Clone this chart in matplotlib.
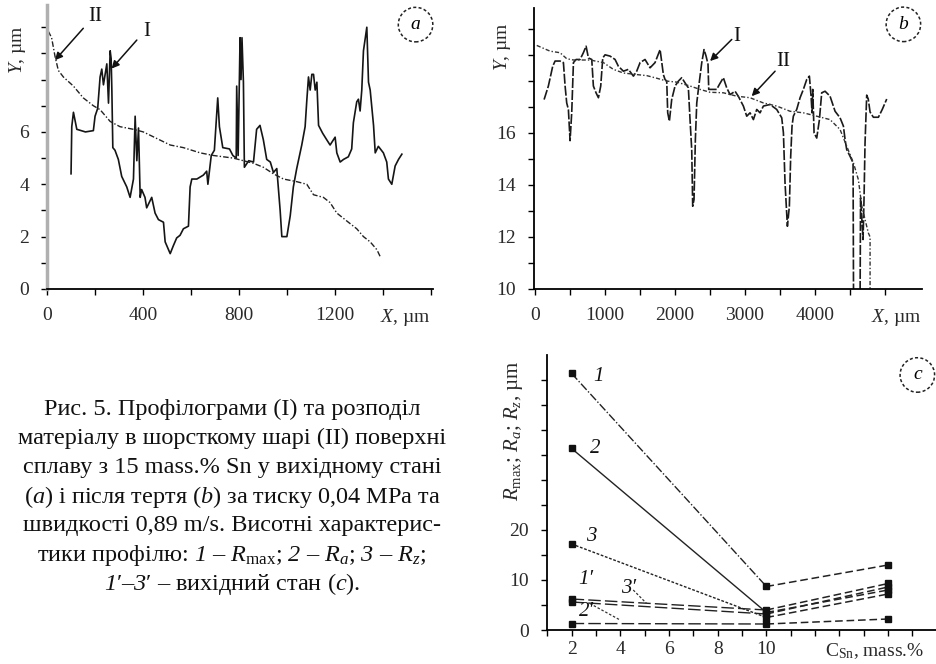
import matplotlib
matplotlib.use("Agg")
import matplotlib.pyplot as plt

plt.rcParams["font.family"] = ["Liberation Serif", "DejaVu Serif"]
plt.rcParams["mathtext.fontset"] = "custom"
plt.rcParams["mathtext.rm"] = "Liberation Serif"
plt.rcParams["mathtext.it"] = "Liberation Serif:italic"
plt.rcParams["mathtext.bf"] = "Liberation Serif:bold"
# mathtext draws digits upright even in \mathit, so \mathsf is used for italic digits
plt.rcParams["mathtext.sf"] = "Liberation Serif:italic"

# --- panel (a): initial state, 1600 um trace ---
a_prof_x = [100, 103, 110, 124, 160, 193, 200, 211, 221, 228, 235, 249, 256, 263, 267, 270, 274, 283, 297, 311,
            332, 346, 360, 367, 374, 381, 388, 394, 408, 415, 436, 450, 464, 485, 492, 513, 526, 540, 554, 568,
            589, 596, 603, 624, 651, 665, 670, 684, 697, 704, 711, 718, 732, 760, 774, 788, 790, 796, 804, 808,
            812, 818, 822, 840, 860, 873, 887, 901, 915, 930, 943, 957, 964, 971, 978, 999, 1013, 1026, 1040,
            1061, 1075, 1082, 1089, 1096, 1103, 1110, 1117, 1124, 1131, 1148, 1165, 1179, 1200, 1207, 1221,
            1235, 1255, 1269, 1276, 1290, 1297, 1304, 1311, 1318, 1332, 1339, 1346, 1360, 1367, 1380, 1401,
            1415, 1422, 1436, 1450, 1464, 1478]
a_prof_y = [4.4, 6.2, 6.75, 6.1, 6.0, 6.05, 6.6, 6.9, 8.1, 8.4, 7.8, 8.6, 7.1, 9.1, 8.8, 7.6, 5.4, 5.3, 4.95, 4.3,
            3.9, 3.5, 4.2, 6.6, 4.9, 6.15, 3.5, 3.8, 3.5, 3.1, 3.5, 2.9, 2.65, 2.55, 1.8, 1.35, 1.65, 1.95, 2.05,
            2.3, 2.4, 3.9, 4.2, 4.2, 4.35, 4.5, 4.0, 5.1, 5.3, 6.3, 7.3, 6.2, 5.4, 5.35, 5.1, 5.0, 7.75, 5.1,
            9.6, 8.0, 9.6, 7.9, 4.65, 4.9, 4.85, 6.1, 6.25, 5.7, 4.95, 4.85, 4.45, 4.6, 3.8, 3.0, 2.0, 2.0, 2.8,
            3.9, 4.6, 5.5, 6.2, 7.2, 8.1, 7.6, 8.2, 8.2, 7.6, 7.9, 6.25, 5.95, 5.7, 5.5, 5.8, 5.2, 4.85, 4.95,
            5.05, 5.35, 6.35, 7.15, 7.25, 6.8, 7.6, 9.1, 10.0, 7.9, 7.6, 6.25, 5.2, 5.45, 5.2, 4.85, 4.2, 4.0,
            4.7, 4.95, 5.15]
a_dist_x = [5, 19, 33, 47, 68, 110, 151, 193, 221, 263, 304, 360, 401, 457, 513, 568, 638, 693, 776, 860, 901,
            943, 985, 1040, 1082, 1110, 1151, 1179, 1207, 1262, 1290, 1318, 1346, 1374, 1387]
a_dist_y = [9.85, 9.6, 8.9, 8.35, 8.1, 7.75, 7.3, 7.0, 6.85, 6.4, 6.2, 6.1, 6.0, 5.75, 5.5, 5.4, 5.2, 5.1, 5.0,
            4.8, 4.65, 4.4, 4.2, 4.1, 4.0, 3.6, 3.5, 3.3, 2.9, 2.5, 2.3, 2.0, 1.8, 1.5, 1.25]

# --- panel (b): after friction ---
b_prof_x = [129, 190, 252, 286, 357, 405, 429, 452, 476, 500, 524, 548, 586, 643, 690, 729, 762, 810, 833, 871,
            905, 938, 967, 1000, 1071, 1143, 1190, 1262, 1333, 1405, 1452, 1500, 1571, 1643, 1714, 1786, 1833,
            1857, 1881, 1895, 1919, 1952, 2000, 2048, 2095, 2143, 2190, 2214, 2238, 2252, 2271, 2290, 2310,
            2333, 2381, 2414, 2443, 2471, 2481, 2500, 2595, 2633, 2690, 2738, 2786, 2857, 2905, 2976, 3024,
            3071, 3119, 3167, 3214, 3262, 3357, 3452, 3524, 3548, 3571, 3605, 3633, 3652, 3671, 3690, 3738,
            3786, 3833, 3881, 3919, 3943, 3957, 3967, 3986, 4024, 4062, 4095, 4143, 4214, 4286, 4357, 4405,
            4429, 4452, 4500, 4543, 4550, 4643, 4650, 4686, 4700, 4714, 4738, 4760, 4786, 4833, 4905, 4960,
            5024]
b_prof_y = [17.28, 17.8, 18.56, 18.76, 18.76, 18.7, 17.8, 17.15, 16.9, 15.7, 16.8, 18.7, 18.82, 18.82, 19.08,
            19.33, 18.88, 18.82, 17.8, 17.54, 17.35, 17.8, 18.88, 19.0, 18.95, 18.82, 18.56, 18.37, 18.44,
            18.18, 18.37, 18.7, 18.82, 18.5, 18.7, 19.2, 18.24, 18.05, 17.99, 16.77, 16.45, 17.28, 17.8, 17.99,
            18.12, 17.92, 17.73, 16.5, 15.36, 13.18, 13.44, 15.74, 17.15, 17.67, 18.69, 19.2, 18.95, 18.63,
            17.67, 17.67, 17.67, 17.86, 18.12, 17.73, 17.47, 17.6, 17.4, 17.03, 16.64, 16.77, 16.51, 16.9,
            16.77, 17.03, 17.09, 16.9, 16.58, 16.0, 14.08, 12.41, 13.18, 15.1, 16.26, 16.64, 16.9, 17.35,
            17.67, 18.05, 18.18, 17.41, 16.77, 17.67, 16.0, 15.8, 16.5, 17.54, 17.6, 17.41, 16.83, 16.58,
            16.26, 15.74, 15.36, 15.1, 14.85, 9.5, 9.5, 13.5, 11.9, 13.5, 15.6, 17.45, 17.3, 16.8, 16.6, 16.6,
            16.9, 17.3]
b_dist_x = [24, 214, 357, 452, 548, 786, 976, 1119, 1262, 1452, 1595, 1738, 1881, 2024, 2214, 2357, 2500, 2690,
            2881, 3071, 3262, 3452, 3643, 3833, 4024, 4214, 4357, 4452, 4548, 4619, 4667, 4714, 4762, 4786, 4786]
b_dist_y = [19.36, 19.14, 19.08, 18.85, 18.8, 18.8, 18.7, 18.44, 18.3, 18.24, 18.2, 18.1, 17.99, 17.95, 17.8,
            17.67, 17.56, 17.54, 17.41, 17.35, 17.15, 17.03, 16.83, 16.77, 16.64, 16.51, 16.13, 15.49, 14.85,
            14.2, 13.2, 12.67, 12.15, 12.0, 9.5]

# --- panel (c): roughness vs Sn content ---
c_sn = [2, 10, 15]
r_max = [51.3, 8.7, 13.0]
r_a = [36.3, 3.5, 8.0]
r_z = [17.2, 2.5, 7.2]
r_max0 = [6.2, 4.0, 9.3]
r_a0 = [1.3, 1.2, 2.2]
r_z0 = [5.6, 3.2, 8.6]

caption = [
    "Рис. 5. Профілограми (I) та розподіл",
    "матеріалу в шорсткому шарі (II) поверхні",
    "сплаву з 15 mass.% Sn у вихідному стані",
    "($a$) і після тертя ($b$) за тиску 0,04 MPa та",
    "швидкості 0,89 m/s. Висотні характерис-",
    r"тики профілю: $\mathsf{1}$ – $R_{\mathrm{max}}$; $\mathsf{2}$ – $R_a$; $\mathsf{3}$ – $R_z$;",
    r"$\mathsf{1}$′–$\mathsf{3}$′ – вихідний стан ($c$).",
]

FS = 14
TXT = "#2a2a2a"


def style_axes(ax):
    for side in ("top", "right"):
        ax.spines[side].set_visible(False)
    for side in ("left", "bottom"):
        ax.spines[side].set_linewidth(1.3)
    ax.tick_params(direction="out", length=4, width=1, labelsize=FS, labelcolor=TXT, pad=9)


def circle_label(ax, x, y, letter):
    ax.text(x, y, letter, fontsize=FS, style="italic", ha="center", va="center", clip_on=False,
            bbox=dict(boxstyle="circle,pad=0.45", fc="none", ec="#222", lw=1.1, ls=(0, (2, 1.5))))


def arrow(ax, tail, head):
    ax.annotate("", xy=head, xytext=tail,
                arrowprops=dict(arrowstyle="-|>", lw=1.1, color="#111", mutation_scale=11,
                                shrinkA=0, shrinkB=0))


def plot_a(fig):
    ax = fig.add_axes([0.0502, 0.5648, 0.412, 0.4277])
    style_axes(ax)
    ax.spines["left"].set_color("#b0b0b0")
    ax.spines["left"].set_linewidth(2.5)
    ax.plot(a_prof_x, a_prof_y, color="#151515", lw=1.2)
    ax.plot(a_dist_x, a_dist_y, color="#222", lw=1.0, ls=(0, (4, 1.5, 1, 1.5)))
    ax.set_xlim(0, 1608)
    ax.set_ylim(0, 10.85)
    ax.set_xticks(range(0, 1601, 200))
    ax.set_xticklabels(["0", "", "400", "", "800", "", "1200", "", ""])
    ax.set_yticks(range(0, 11))
    ax.set_yticklabels(["0", "", "2", "", "4", "", "6", "", "", "", ""])
    ax.annotate("$X$, µm", xy=(1494, 0), xytext=(0, -13), textcoords="offset points",
                ha="center", va="top", fontsize=FS, color=TXT, annotation_clip=False)
    arrow(ax, (151, 9.96), (33, 8.74))
    ax.text(200, 10.42, "II", fontsize=FS + 1, ha="center", va="center", color="#111")
    arrow(ax, (374, 9.51), (269, 8.42))
    ax.text(417, 9.85, "I", fontsize=FS + 1, ha="center", va="center", color="#111")
    circle_label(ax, 1535, 10.1, "a")
    fig.text(18 / 937, 1 - 50 / 664, "$Y$, µm", rotation=90, ha="center", va="center",
             fontsize=FS, color=TXT)


def plot_b(fig):
    ax = fig.add_axes([0.5703, 0.5648, 0.4134, 0.4232])
    style_axes(ax)
    ax.plot(b_prof_x, b_prof_y, color="#1a1a1a", lw=1.2, ls=(0, (6, 1.2)))
    ax.plot(b_dist_x, b_dist_y, color="#333", lw=1.0, ls=(0, (3, 1.5, 1, 1.5)))
    ax.set_xlim(-10, 5524)
    ax.set_ylim(10, 20.8)
    ax.set_xticks(range(0, 5001, 500))
    ax.set_xticklabels(["0", "", "1000", "", "2000", "", "3000", "", "4000", "", ""])
    ax.set_yticks(range(10, 21))
    ax.set_yticklabels(["10", "", "12", "", "14", "", "16", "", "", "", ""])
    ax.annotate("$X$, µm", xy=(5157, 10), xytext=(0, -13), textcoords="offset points",
                ha="center", va="top", fontsize=FS, color=TXT, annotation_clip=False)
    arrow(ax, (2810, 19.59), (2500, 18.76))
    ax.text(2881, 19.72, "I", fontsize=FS + 1, ha="center", va="center", color="#111")
    arrow(ax, (3429, 18.37), (3095, 17.41))
    ax.text(3548, 18.76, "II", fontsize=FS + 1, ha="center", va="center", color="#111")
    circle_label(ax, 5262, 20.17, "b")
    fig.text(503 / 937, 1 - 47 / 664, "$Y$, µm", rotation=90, ha="center", va="center",
             fontsize=FS, color=TXT)


def plot_c(fig):
    ax = fig.add_axes([0.5841, 0.0512, 0.4157, 0.4142])
    style_axes(ax)
    ax.tick_params(axis="x", pad=4)
    first = [(r_max, (0, (6, 1.5, 1, 1.5))), (r_a, "-"), (r_z, (0, (2, 1.2))),
             (r_max0, (0, (9, 3))), (r_z0, (0, (9, 3))), (r_a0, (0, (9, 3)))]
    for vals, ls in first:
        ax.plot(c_sn[:2], vals[:2], color="#222", lw=1.0, ls=ls)
        ax.plot(c_sn[1:], vals[1:], color="#222", lw=1.1, ls=(0, (5, 2.5)))
        ax.plot(c_sn, vals, ls="none", marker="s", ms=5, color="#111")
    ax.set_xlim(1.0, 17.0)
    ax.set_ylim(0, 55)
    ax.set_xticks(range(1, 17))
    ax.set_xticklabels(["" if v not in (2, 4, 6, 8, 10) else str(v) for v in range(1, 17)])
    ax.set_yticks(range(0, 51, 5))
    ax.set_yticklabels(["0", "", "10", "", "20", "", "", "", "", "", ""])
    ax.annotate(r"C$_{\mathrm{Sn}}$, mass.%", xy=(14.45, 0), xytext=(0, -18.5), textcoords="offset points",
                ha="center", va="baseline", fontsize=FS, color=TXT, annotation_clip=False)
    for x, y, s in [(3.09, 50.7, "1"), (2.96, 36.3, "2"), (2.82, 18.7, "3"),
                    (2.6, 10.0, "1′"), (2.6, 3.7, "2′"), (4.33, 8.3, "3′")]:
        ax.text(x, y, s, fontsize=FS + 1, style="italic", ha="center", va="center", color="#111")
    ax.plot([4.53, 5.08], [8.0, 5.3], color="#333", lw=0.9, ls=(0, (2, 1.5)))
    ax.plot([2.75, 3.99], [5.3, 2.0], color="#333", lw=0.9, ls=(0, (2, 1.5)))
    circle_label(ax, 16.2, 51, "c")
    fig.text(514 / 937, 1 - 431 / 664, r"$R_{\mathrm{max}}$; $R_a$; $R_z$, µm", rotation=90,
             ha="center", va="center", fontsize=FS + 1, color=TXT)


if __name__ == "__main__":
    fig = plt.figure(figsize=(9.37, 6.64), dpi=100)
    plot_a(fig)
    plot_b(fig)
    plot_c(fig)
    for i, line in enumerate(caption):
        fig.text(232 / 937, 1 - (409 + 29.2 * i) / 664, line, ha="center", va="center",
                 fontsize=17.5, color="#111")
    fig.savefig("out.png", dpi=100)
